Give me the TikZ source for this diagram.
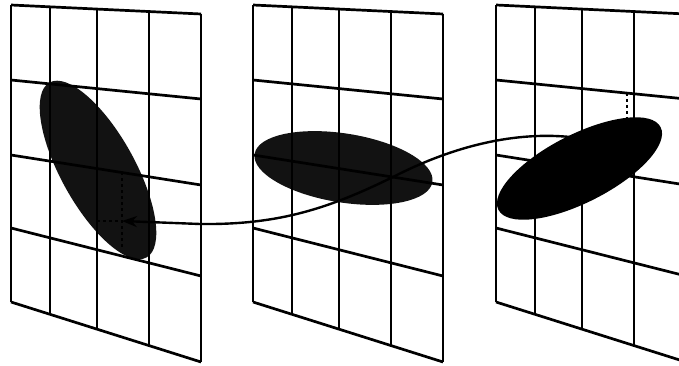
\documentclass[tikz,border=0pt]{standalone}
\usetikzlibrary{arrows.meta}
\begin{document}
\begin{tikzpicture}[x=1pt, y=-1pt, line join=miter,
  gridline/.style={line width=2.7pt, line cap=square},
  blob/.style={fill=black!93},
  guide/.style={line width=1.5pt, dash pattern=on 3pt off 3pt}]
  \clip (0,0) rectangle (679,366);
  % centres of the three blobs
  \coordinate (c1) at (98,170);
  \coordinate (c2) at (343.5,168);
  \coordinate (c3) at (579.5,168.5);
  % first two blobs sit behind their planes
  \fill[blob, rotate around={-61:(c1)}] (c1) ellipse (100 and 37);
  \fill[blob, rotate around={-9:(c2)}] (c2) ellipse (90 and 34.5);
  % three skewed planes, 4x4 cells each
  \foreach \dx in {0,242,485} {
    \begin{scope}[shift={(\dx,0)}]
      \foreach \l/\r in {5/14,80/99,155/185,228/276,302/362}
        \draw[gridline] (11,\l) -- (201,\r);
      \foreach \x/\t/\b in {11/5/302,50/6.85/314.3,97/9.07/329.2,149/11.5/345.6,201/14/362}
        \draw[gridline] (\x,\t) -- (\x,\b);
    \end{scope}
  }
  % dashed guides
  \draw[guide] (122,172) -- (122,248);
  \draw[guide] (97,221) -- (122,221);
  \draw[guide] (627,93) -- (627,140);
  % the path from the last plane back to the first
  \coordinate (src) at (570,137);
  \coordinate (bend) at (395,176);
  \coordinate (knee) at (200,224);
  \coordinate (tip) at (122,221);
  \draw[line width=2.4pt, -{Stealth[length=15pt,width=11pt]}]
    (src) .. controls (530,133) and (470,138) .. (bend)
          .. controls (330,208) and (280,225) .. (knee) -- (tip);
  % last blob lies on top
  \fill[black, rotate around={27:(c3)}] (c3) ellipse (91 and 34);
\end{tikzpicture}
\end{document}
